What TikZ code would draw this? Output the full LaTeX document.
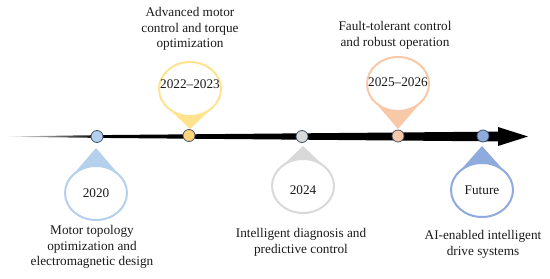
\documentclass[tikz,border=0pt]{standalone}
\usepackage{fontspec}
\setmainfont{Liberation Serif}
\usetikzlibrary{shapes.geometric}
\definecolor{cblue}{HTML}{B4D0EC}
\definecolor{cyellow}{HTML}{FFE38F}
\definecolor{cgray}{HTML}{D9D9D9}
\definecolor{cpeach}{HTML}{F8C9A8}
\definecolor{cdblue}{HTML}{8FAADC}
\definecolor{dotline}{HTML}{44546A}
\definecolor{txt}{HTML}{1A1A1A}
\newcommand\fs{\fontsize{13.3}{15.7}\selectfont}
\tikzset{
  balloon/.style={ellipse, fill=white, line width=2bp, minimum width=62bp,
    minimum height=54bp, inner sep=0pt},
  dot/.style={circle, minimum size=12bp, inner sep=0pt, draw=dotline, line width=0.8bp},
  lbl/.style={align=center, text=txt, inner sep=0pt, font=\fs}
}
\newcommand\mkballoon[7]{%
  \pgfmathsetmacro\bd{abs(#4-#3)}%
  \pgfmathsetmacro\bs{sign(#4-#3)}%
  \pgfmathsetmacro\ty{#3+\bs*27*27/\bd}%
  \pgfmathsetmacro\tx{31*sqrt(1-(27/\bd)^2)}%
  \coordinate (#1tip) at (#2,#4);
  \fill[#5] (#1tip) -- (#2-\tx,\ty) -- (#2+\tx,\ty) -- cycle;
  \node[balloon, draw=#5] (#1) at (#2,#3) {};
  \node[lbl] (#1txt) at (#2,#7) {#6};
}
\begin{document}
\begin{tikzpicture}[x=1bp,y=-1bp]
\useasboundingbox (0,0) rectangle (550,278);
% timeline arrow
\coordinate (astart) at (5,136.5);
\coordinate (aend) at (528,136.5);
\shade[left color=white, right color=black]
  (astart) -- (100,135.1) -- (100,137.9) -- (5,136.7) -- cycle;
\fill[black] (99.5,135.1) -- (498,131.6) -- (498,127) -- (aend) -- (498,146)
  -- (498,141.4) -- (99.5,137.9) -- cycle;
% dots
\node[dot, fill=cblue] (d1) at (97,136.5) {};
\node[dot, fill=cyellow!85!orange] (d2) at (189,135.5) {};
\node[dot, fill=cgray] (d3) at (302,136.5) {};
\node[dot, fill=cpeach] (d4) at (398,136) {};
\node[dot, fill=cdblue] (d5) at (483,136) {};
% balloons
\mkballoon{b1}{96}{193}{148}{cblue}{2020}{193}
\mkballoon{b2}{190}{89}{129}{cyellow}{2022--2023}{84}
\mkballoon{b3}{303}{186}{146}{cgray}{2024}{190}
\mkballoon{b4}{398}{84}{129}{cpeach}{2025--2026}{82}
\mkballoon{b5}{482}{190}{146}{cdblue}{Future}{190}
% labels
\node[lbl] (t1) at (92,247) {Motor topology\\optimization and\\electromagnetic design};
\node[lbl] (t2) at (190,29) {Advanced motor\\control and torque\\optimization};
\node[lbl] (t3) at (301,242) {Intelligent diagnosis and\\predictive control};
\node[lbl] (t4) at (395,35) {Fault-tolerant control\\and robust operation};
\node[lbl] (t5) at (483,244.5) {AI-enabled intelligent\\drive systems};
\end{tikzpicture}
\end{document}
